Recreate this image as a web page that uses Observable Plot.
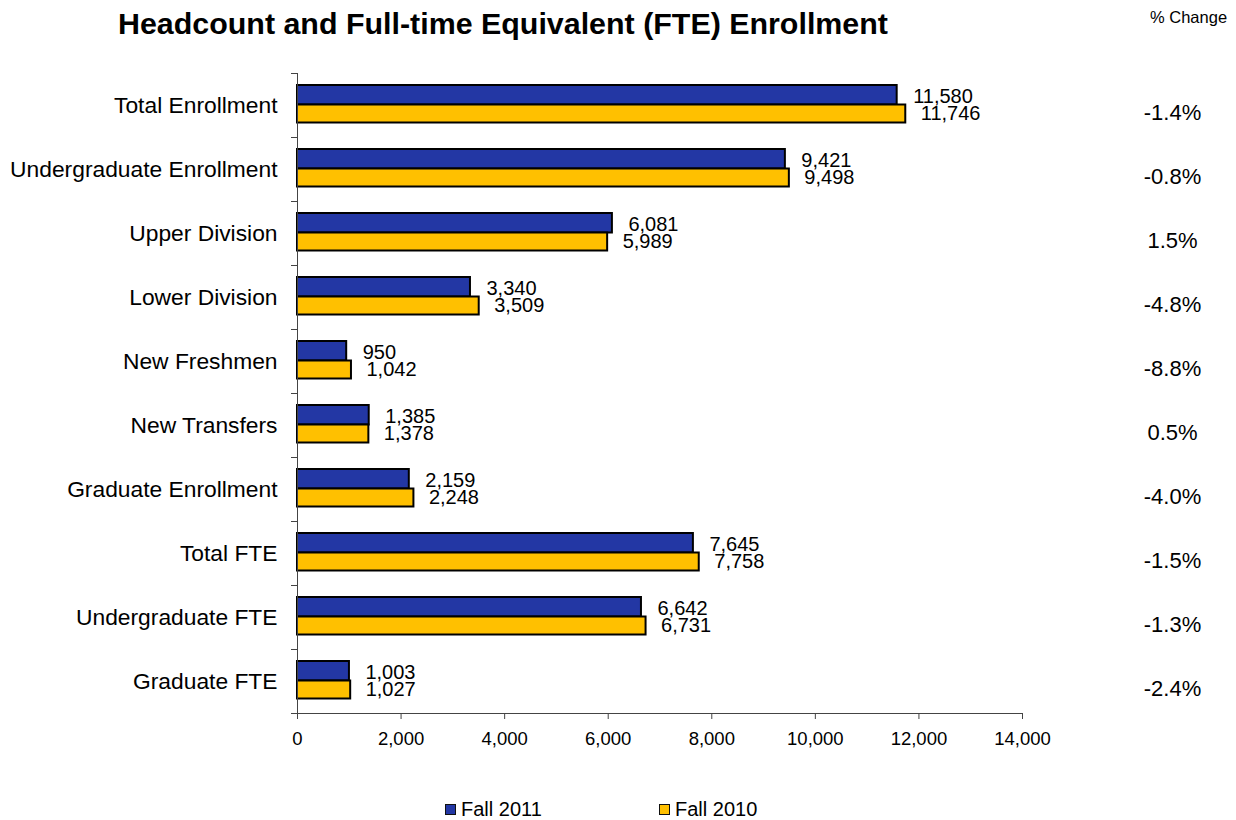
<!DOCTYPE html>
<html>
<head>
<meta charset="utf-8">
<script src="https://cdn.jsdelivr.net/npm/d3@7"></script>
<script src="https://cdn.jsdelivr.net/npm/@observablehq/plot@0.6"></script>
<style>
  body { margin: 0; background: #fff; font-family: "Liberation Sans", Arial, sans-serif; color: #000; }
  #wrap { width: 1236px; }
  #head { position: relative; height: 50px; }
  #title { position: absolute; left: 118px; top: 8px; font-size: 30.4px; line-height: 30px; font-weight: bold; white-space: nowrap; }
  #pc { position: absolute; left: 1150px; top: 9px; font-size: 16.5px; line-height: 16px; white-space: nowrap; }
  #chart { height: 740px; }
  #legend { position: relative; height: 30px; font-size: 20px; }
  .sw { position: absolute; top: 14px; width: 9px; height: 9px; border: 1.5px solid #111; }
  .lt { position: absolute; top: 9px; line-height: 20px; white-space: nowrap; }
</style>
</head>
<body>
<div id="wrap">
  <div id="head">
    <div id="title">Headcount and Full-time Equivalent (FTE) Enrollment</div>
    <div id="pc">% Change</div>
  </div>
  <div id="chart"></div>
  <div id="legend"></div>
</div>
<script>
const categories = [
  "Total Enrollment",
  "Undergraduate Enrollment",
  "Upper Division",
  "Lower Division",
  "New Freshmen",
  "New Transfers",
  "Graduate Enrollment",
  "Total FTE",
  "Undergraduate FTE",
  "Graduate FTE"
];
const fall2011 = [11580, 9421, 6081, 3340, 950, 1385, 2159, 7645, 6642, 1003];
const fall2010 = [11746, 9498, 5989, 3509, 1042, 1378, 2248, 7758, 6731, 1027];
const pctChange = ["-1.4%", "-0.8%", "1.5%", "-4.8%", "-8.8%", "0.5%", "-4.0%", "-1.5%", "-1.3%", "-2.4%"];
const seriesNames = ["Fall 2011", "Fall 2010"];
const seriesColors = ["#2337A4", "#FFC000"];
const xTicks = [0, 2000, 4000, 6000, 8000, 10000, 12000, 14000];

const rows2011 = categories.map((c, i) => ({category: c, value: fall2011[i]}));
const rows2010 = categories.map((c, i) => ({category: c, value: fall2010[i]}));
const rowsPct = categories.map((c, i) => ({category: c, pct: pctChange[i]}));
const fmt = d3.format(",");
const font = "'Liberation Sans', Arial, sans-serif";

const chart = Plot.plot({
  width: 1236,
  height: 740,
  marginTop: 23,
  marginBottom: 77,
  marginLeft: 297,
  marginRight: 214,
  style: {fontFamily: font, fontSize: "18px", color: "#000", background: "#fff", overflow: "visible"},
  x: {domain: [0, 14000], label: null},
  y: {domain: categories, padding: 0, label: null},
  marks: [
    Plot.barX(rows2011, {x: "value", y: "category", fill: seriesColors[0], stroke: "#000", strokeWidth: 2, insetTop: 12, insetBottom: 32.5}),
    Plot.barX(rows2010, {x: "value", y: "category", fill: seriesColors[1], stroke: "#000", strokeWidth: 2, insetTop: 31.5, insetBottom: 14.5}),
    Plot.text(rows2011, {x: "value", y: "category", text: d => fmt(d.value), dx: 16, dy: -9, textAnchor: "start", fontSize: 20, fill: "#000"}),
    Plot.text(rows2010, {x: "value", y: "category", text: d => fmt(d.value), dx: 15, dy: 8.5, textAnchor: "start", fontSize: 20, fill: "#000"}),
    Plot.text(rowsPct, {y: "category", text: "pct", frameAnchor: "right", dx: 150, dy: 7, textAnchor: "middle", fontSize: 22, fill: "#000"}),
    Plot.axisY({tickSize: 0, tickPadding: 20, fontSize: 22.8, label: null}),
    Plot.axisY({tickSize: 6, tickFormat: () => "", dy: -32, stroke: "#444", label: null}),
    Plot.axisY([categories[categories.length - 1]], {tickSize: 6, tickFormat: () => "", dy: 32, stroke: "#444", label: null}),
    Plot.ruleX([0], {stroke: "#444"}),
    Plot.frame({anchor: "bottom", stroke: "#444"}),
    Plot.axisX({ticks: xTicks, tickSize: 6, tickPadding: 12, tickFormat: d3.format(","), fontSize: 18.5, stroke: "#444", label: null})
  ]
});
document.getElementById("chart").appendChild(chart);

const legend = document.getElementById("legend");
const positions = [445, 659];
seriesNames.forEach((name, i) => {
  const sw = document.createElement("div");
  sw.className = "sw";
  sw.style.left = positions[i] + "px";
  sw.style.background = seriesColors[i];
  legend.appendChild(sw);
  const t = document.createElement("div");
  t.className = "lt";
  t.style.left = (positions[i] + 16) + "px";
  t.textContent = name;
  legend.appendChild(t);
});
</script>
</body>
</html>
